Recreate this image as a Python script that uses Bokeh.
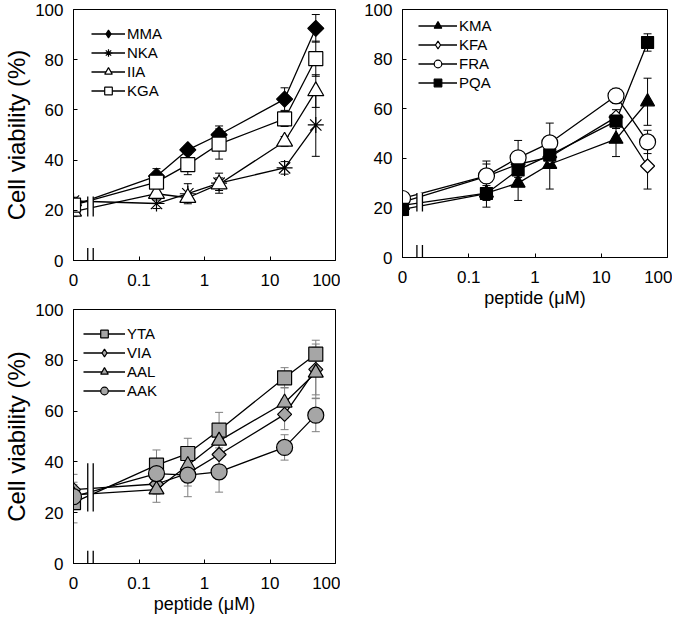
import math
from bokeh.plotting import figure
from bokeh.models import (ColumnDataSource, Whisker, TeeHead, FixedTicker, Legend,
                          LegendItem, GridBox)
from bokeh.embed import file_html
from bokeh.resources import INLINE

# ---------------- data ----------------
conc = [0, 0.185, 0.556, 1.67, 16.7, 50]          # peptide (uM); 0 is drawn at the axis origin
zero_pos = 0.01                                   # log-axis position used for "0"
x_ticks = [0.01, 0.1, 1, 10, 100]
x_tick_labels = ["0", "0.1", "1", "10", "100"]
y_ticks = [0, 20, 40, 60, 80, 100]
break_x = [0.0165, 0.02]

# panel A
MMA = [22, 33.6, 44.1, 50.1, 64.3, 92.5]
MMA_err = [1.5, 3, 1.5, 3.5, 4.5, 5.5]
NKA = [23.7, 22.7, 26.6, 30.8, 36.9, 54]
NKA_err = [1.5, 2, 4, 4, 2.5, 12.5]
IIA = [19.5, 26.6, 25, 30.4, 47.4, 67.5]
IIA_err = [2, 2.5, 1.5, 2.5, 2, 6.5]
KGA = [22.1, 31.2, 38.2, 46.4, 56.4, 80.4]
KGA_err = [1.5, 2, 4, 6, 3, 7]

# panel B
KMA = [21, 26, 30, 37.6, 47.7, 62.8]
KMA_err = [2, 3, 7, 10, 7, 9.5]
KFA = [22.3, 32.7, 37.6, 40.5, 56.6, 36.9]
KFA_err = [1.5, 5, 3, 3, 3, 9.3]
FRA = [23.8, 32.9, 40.2, 46.2, 65.2, 46.6]
FRA_err = [1.5, 6, 7, 8, 3, 4.7]
PQA = [19.4, 25.8, 35.3, 41.3, 55, 86.7]
PQA_err = [2.5, 5.5, 3, 3, 3, 3.5]

# panel C
YTA = [24, 38.7, 43.3, 52.5, 73.1, 82.4]
YTA_err = [8, 6, 6, 7, 4, 5.5]
VIA = [29.1, 31.3, 35.5, 42.9, 58.7, 76.4]
VIA_err = [6, 4, 5, 4, 6, 10]
AAL = [27, 29.1, 38.7, 48.3, 63.3, 75.1]
AAL_err = [4, 5, 4, 5, 6, 10]
AAK = [26.3, 35.4, 34.8, 36.1, 45.7, 58.4]
AAK_err = [3, 5, 8.5, 8, 5, 6.5]

FONT = "Liberation Sans"
GRAY = "#a6a6a6"


def xpos(c):
    return [zero_pos if v == 0 else v for v in c]


def make_panel(fw, fh, mb_left, mb_right, mb_top, mb_bottom, ylabel, xlabel,
               series, break_y, legend_spec, err_color="black"):
    p = figure(frame_width=fw, frame_height=fh, x_axis_type="log", x_range=(0.01, 100),
               y_range=(0, 100), output_backend="svg", toolbar_location=None,
               min_border_left=mb_left, min_border_right=mb_right,
               min_border_top=mb_top, min_border_bottom=mb_bottom)
    p.xgrid.visible = False
    p.ygrid.visible = False
    p.outline_line_color = "black"
    p.outline_line_width = 1
    p.background_fill_color = "white"
    p.border_fill_color = "white"

    p.xaxis.ticker = FixedTicker(ticks=x_ticks, minor_ticks=[])
    p.xaxis.major_label_overrides = dict(zip(x_ticks, x_tick_labels))
    p.yaxis.ticker = FixedTicker(ticks=y_ticks, minor_ticks=[])
    for ax in (p.xaxis, p.yaxis):
        ax.axis_line_color = "black"
        ax.major_tick_line_color = "black"
        ax.major_tick_in = 4
        ax.major_tick_out = 0
        ax.minor_tick_line_color = None
        ax.major_label_text_font = FONT
        ax.major_label_text_font_size = "17px"
        ax.major_label_text_color = "black"
        ax.axis_label_text_font = FONT
        ax.axis_label_text_font_style = "normal"
        ax.axis_label_text_color = "black"
    p.xaxis.major_label_standoff = 13
    p.yaxis.major_label_standoff = 10
    if ylabel:
        p.yaxis.axis_label = ylabel
        p.yaxis.axis_label_text_font_size = "24px"
        p.yaxis.axis_label_standoff = 2
    if xlabel:
        p.xaxis.axis_label = xlabel
        p.xaxis.axis_label_text_font_size = "18px"
        p.xaxis.axis_label_standoff = 2

    xs = xpos(conc)
    items = []
    line_rs = []
    for name, vals, errs, marker, fill, size in series:
        src = ColumnDataSource(dict(x=xs, y=vals,
                                    up=[v + e for v, e in zip(vals, errs)],
                                    lo=[v - e for v, e in zip(vals, errs)]))
        w = Whisker(base="x", upper="up", lower="lo", source=src, level="underlay",
                    line_color=err_color, line_width=1,
                    upper_head=TeeHead(size=8, line_color=err_color, line_width=1),
                    lower_head=TeeHead(size=8, line_color=err_color, line_width=1))
        p.add_layout(w)
    for name, vals, errs, marker, fill, size in series:
        src = ColumnDataSource(dict(x=xs, y=vals))
        lr = p.line("x", "y", source=src, line_color="black", line_width=1.3)
        line_rs.append((name, lr, src, marker, fill, size))
    # axis break on the data lines and on the x axis
    p.quad(left=[break_x[0]], right=[break_x[1]], bottom=[break_y[0]], top=[break_y[1]],
           fill_color="white", line_color=None)
    for bx in break_x:
        p.segment(x0=[bx, bx], y0=[break_y[0], 0], x1=[bx, bx], y1=[break_y[1], 5],
                  line_color="black", line_width=1.3)
    for name, lr, src, marker, fill, size in line_rs:
        if marker == "diamond":
            # square diamond (rotated square) in the plot, diamond glyph in the legend
            p.scatter("x", "y", source=src, marker="square", angle=math.pi / 4,
                      size=size / 1.41, fill_color=fill, line_color="black", line_width=1.2)
            sr = p.scatter("x", "y", source=src, marker="diamond", size=size,
                           fill_color=fill, line_color="black", line_width=1.2,
                           visible=False)
        else:
            sr = p.scatter("x", "y", source=src, marker=marker, size=size,
                           fill_color=fill, line_color="black", line_width=1.2)
        items.append(LegendItem(label=name, renderers=[lr, sr]))

    x_off, center_off, gw = legend_spec
    row_h = 19
    leg_h = len(items) * row_h
    leg = Legend(items=items, location=(x_off, fh - (center_off - row_h / 2) - leg_h),
                 padding=0, margin=0, spacing=0, glyph_width=gw, glyph_height=row_h,
                 label_height=row_h, label_standoff=2, label_text_font=FONT,
                 label_text_font_size="15px", label_text_color="black",
                 border_line_color=None, background_fill_alpha=0,
                 inactive_fill_alpha=0)
    p.add_layout(leg, "center")
    return p


# (name, values, errors, marker, fill, size); diamond sizes are tip-to-tip
seriesA = [("MMA", MMA, MMA_err, "diamond", "black", 16),
           ("NKA", NKA, NKA_err, "asterisk", "white", 16),
           ("IIA", IIA, IIA_err, "triangle", "white", 16),
           ("KGA", KGA, KGA_err, "square", "white", 14)]
seriesB = [("KMA", KMA, KMA_err, "triangle", "black", 14),
           ("KFA", KFA, KFA_err, "diamond", "white", 14),
           ("FRA", FRA, FRA_err, "circle", "white", 16),
           ("PQA", PQA, PQA_err, "square", "black", 12)]
seriesC = [("YTA", YTA, YTA_err, "square", GRAY, 14),
           ("VIA", VIA, VIA_err, "diamond", GRAY, 14),
           ("AAL", AAL, AAL_err, "triangle", GRAY, 15),
           ("AAK", AAK, AAK_err, "circle", GRAY, 16)]

# panel A: frame 262 x 251, borders l73 r5 t9 b32 -> 340 x 292
pA = make_panel(262, 251, 73, 5, 9, 32, "Cell viability (%)", None, seriesA,
                (17.5, 25.5), (18, 24, 34))
# panel B: frame 265 x 248, borders l62 r5 t9 b57 -> 332 x 314
pB = make_panel(265, 248, 62, 5, 9, 57, None, "peptide (μM)", seriesB,
                (18.5, 26), (16, 16, 39))
# panel C: frame 262 x 254, borders l73 r5 t17 b54 -> 340 x 325
pC = make_panel(262, 254, 73, 5, 17, 54, "Cell viability (%)", "peptide (μM)", seriesC,
                (20.5, 39.5), (10, 24, 42), err_color="#7f7f7f")

grid = GridBox(children=[(pA, 0, 0), (pB, 0, 1, 2, 1), (pC, 1, 0, 2, 1)],
               rows=["292px", "22px", "303px"], cols=["340px", "332px"])

open("out.html", "w").write(file_html(grid, INLINE))
